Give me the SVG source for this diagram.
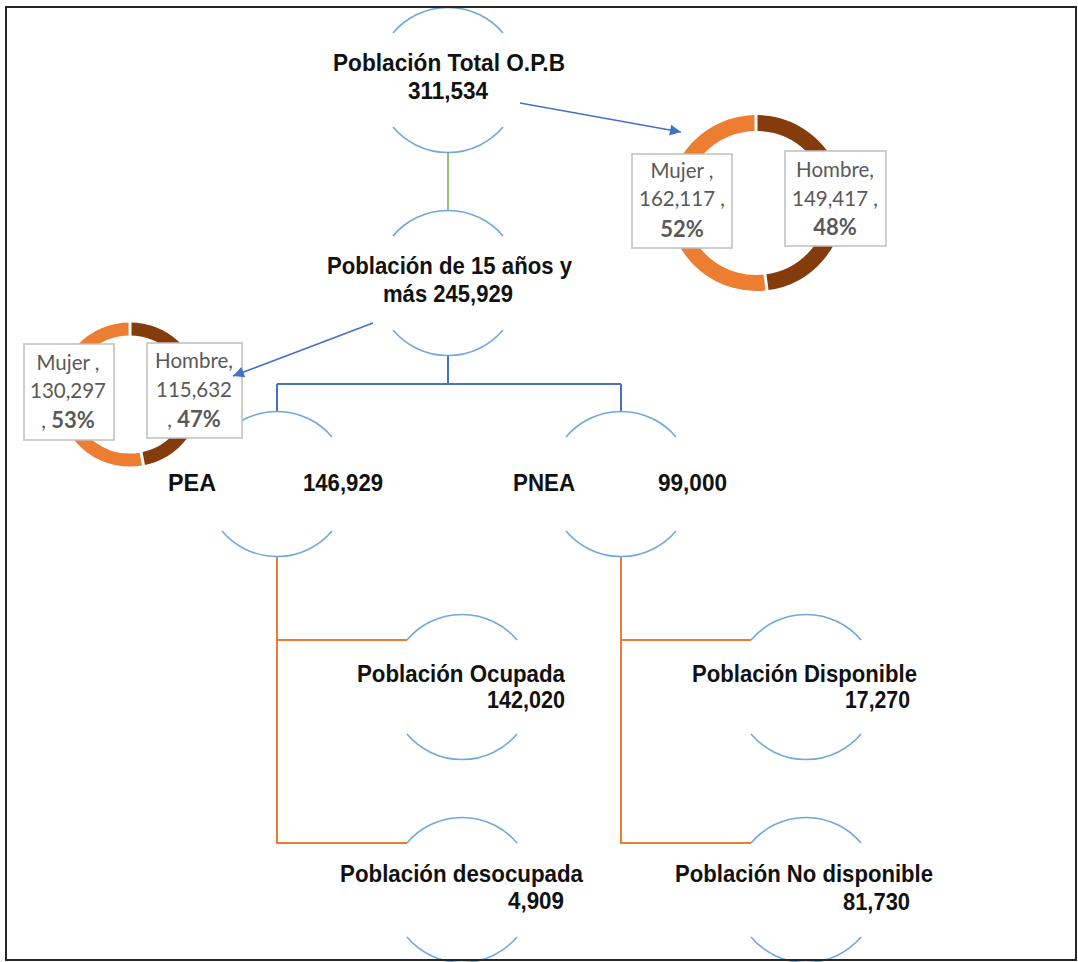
<svg xmlns="http://www.w3.org/2000/svg" width="1078" height="962" viewBox="0 0 1078 962">
  <style>
    .ring { fill: none; stroke: #6FA8DC; stroke-width: 1.6; }
    .lbl { font-family: "Liberation Sans", Arial, sans-serif; font-weight: bold; font-size: 24px; fill: #111; }
    .mid { text-anchor: middle; }
    .end { text-anchor: end; }
    .dl { font-family: Lato, "Open Sans", sans-serif; font-size: 20.5px; fill: #595959; text-anchor: middle; }
    .dl .b { font-weight: bold; font-size: 22px; }
    .box { fill: #fff; stroke: #BFBFBF; stroke-width: 1.5; }
    .mujer { fill: none; stroke: #ED7D31; }
    .hombre { fill: none; stroke: #843C0C; }
    .sep { stroke: #fff; stroke-width: 3; }
  </style>
  <defs>
    <marker id="arrow" viewBox="0 0 10 10" refX="10" refY="5" markerWidth="15" markerHeight="11" markerUnits="userSpaceOnUse" orient="auto">
      <path d="M0,0 L10,5 L0,10 z" fill="#4472C4"/>
    </marker>
  </defs>

  <rect x="0" y="0" width="1078" height="962" fill="#fff"/>

  <!-- tree connectors -->
  <g id="connectors" fill="none">
    <path d="M448,152 V211" stroke="#70AD47" stroke-width="1.5"/>
    <path d="M448,355 V384 M277,384 H621 M277,384 V412 M621,384 V412" stroke="#4472C4" stroke-width="2"/>
    <path d="M277,556 V843 H407 M277,640 H407" stroke="#ED7D31" stroke-width="2"/>
    <path d="M621,556 V843 H751 M621,640 H751" stroke="#ED7D31" stroke-width="2"/>
  </g>

  <!-- population nodes: open circle arcs with labels (condensed bold text) -->
  <g id="node-total">
    <path class="ring" d="M393,33 A72,72 0 0 1 503,33 M393,127 A72,72 0 0 0 503,127"/>
    <text class="lbl" x="333" y="71" textLength="232" lengthAdjust="spacingAndGlyphs">Población Total O.P.B</text>
    <text class="lbl" x="408" y="99" textLength="80" lengthAdjust="spacingAndGlyphs">311,534</text>
  </g>
  <g id="node-15mas">
    <path class="ring" d="M393,236 A72,72 0 0 1 503,236 M393,330 A72,72 0 0 0 503,330"/>
    <text class="lbl" x="327" y="274" textLength="245" lengthAdjust="spacingAndGlyphs">Población de 15 años y</text>
    <text class="lbl" x="383" y="302" textLength="130" lengthAdjust="spacingAndGlyphs">más 245,929</text>
  </g>
  <g id="node-pea">
    <path class="ring" d="M222,437 A72,72 0 0 1 332,437 M222,531 A72,72 0 0 0 332,531"/>
    <text class="lbl" x="168" y="491" textLength="48" lengthAdjust="spacingAndGlyphs">PEA</text>
    <text class="lbl" x="303" y="491" textLength="80" lengthAdjust="spacingAndGlyphs">146,929</text>
  </g>
  <g id="node-pnea">
    <path class="ring" d="M566,437 A72,72 0 0 1 676,437 M566,531 A72,72 0 0 0 676,531"/>
    <text class="lbl" x="513" y="491" textLength="62" lengthAdjust="spacingAndGlyphs">PNEA</text>
    <text class="lbl" x="658" y="491" textLength="69" lengthAdjust="spacingAndGlyphs">99,000</text>
  </g>
  <g id="node-ocupada">
    <path class="ring" d="M407,640 A72,72 0 0 1 517,640 M407,734 A72,72 0 0 0 517,734"/>
    <text class="lbl" x="357" y="682" textLength="208" lengthAdjust="spacingAndGlyphs">Población Ocupada</text>
    <text class="lbl" x="487" y="708" textLength="78" lengthAdjust="spacingAndGlyphs">142,020</text>
  </g>
  <g id="node-desocupada">
    <path class="ring" d="M407,843 A72,72 0 0 1 517,843 M407,937 A72,72 0 0 0 517,937"/>
    <text class="lbl" x="340" y="882" textLength="243" lengthAdjust="spacingAndGlyphs">Población desocupada</text>
    <text class="lbl" x="508" y="909" textLength="56" lengthAdjust="spacingAndGlyphs">4,909</text>
  </g>
  <g id="node-disponible">
    <path class="ring" d="M751,640 A72,72 0 0 1 861,640 M751,734 A72,72 0 0 0 861,734"/>
    <text class="lbl" x="692" y="682" textLength="225" lengthAdjust="spacingAndGlyphs">Población Disponible</text>
    <text class="lbl" x="845" y="708" textLength="65" lengthAdjust="spacingAndGlyphs">17,270</text>
  </g>
  <g id="node-nodisponible">
    <path class="ring" d="M751,843 A72,72 0 0 1 861,843 M751,937 A72,72 0 0 0 861,937"/>
    <text class="lbl" x="675" y="882" textLength="258" lengthAdjust="spacingAndGlyphs">Población No disponible</text>
    <text class="lbl" x="843" y="910" textLength="67" lengthAdjust="spacingAndGlyphs">81,730</text>
  </g>

  <!-- sex split, total population -->
  <g id="donut-total">
    <path class="hombre" stroke-width="16" d="M756,123 A80,80 0 0 1 766,282.4"/>
    <path class="mujer" stroke-width="16" d="M766,282.4 A80,80 0 1 1 756,123"/>
    <line class="sep" x1="756" y1="112" x2="756" y2="134"/>
    <line class="sep" x1="764.6" y1="271.5" x2="767.4" y2="293.3"/>
    <rect class="box" x="632" y="154" width="100" height="94"/>
    <text class="dl" x="682" y="178">Mujer ,</text>
    <text class="dl" x="682" y="206">162,117 ,</text>
    <text class="dl" x="682" y="237"><tspan class="b">52%</tspan></text>
    <rect class="box" x="785" y="151" width="101" height="95"/>
    <text class="dl" x="835" y="177">Hombre,</text>
    <text class="dl" x="835" y="206">149,417 ,</text>
    <text class="dl" x="835" y="235"><tspan class="b">48%</tspan></text>
  </g>

  <!-- sex split, population 15+ -->
  <g id="donut-15mas">
    <path class="hombre" stroke-width="13" d="M130,329 A65.5,65.5 0 0 1 142.3,458.8"/>
    <path class="mujer" stroke-width="13" d="M142.3,458.8 A65.5,65.5 0 1 1 130,329"/>
    <line class="sep" x1="130" y1="321" x2="130" y2="337"/>
    <line class="sep" x1="141" y1="452" x2="143.8" y2="467"/>
    <rect class="box" x="24" y="344" width="90" height="96"/>
    <text class="dl" x="68" y="370">Mujer ,</text>
    <text class="dl" x="68" y="398">130,297</text>
    <text class="dl" x="68" y="428">, <tspan class="b">53%</tspan></text>
    <rect class="box" x="147" y="343" width="95" height="95"/>
    <text class="dl" x="194" y="368">Hombre,</text>
    <text class="dl" x="194" y="397">115,632</text>
    <text class="dl" x="194" y="427">, <tspan class="b">47%</tspan></text>
  </g>

  <!-- pointers from nodes to their charts -->
  <g id="pointers" fill="none" stroke="#4472C4" stroke-width="1.6">
    <line x1="520" y1="103" x2="681" y2="132" marker-end="url(#arrow)"/>
    <line x1="373" y1="323" x2="233" y2="376" marker-end="url(#arrow)"/>
  </g>

  <!-- frame -->
  <rect x="6" y="7" width="1070" height="953" fill="none" stroke="#262626" stroke-width="2"/>
</svg>
